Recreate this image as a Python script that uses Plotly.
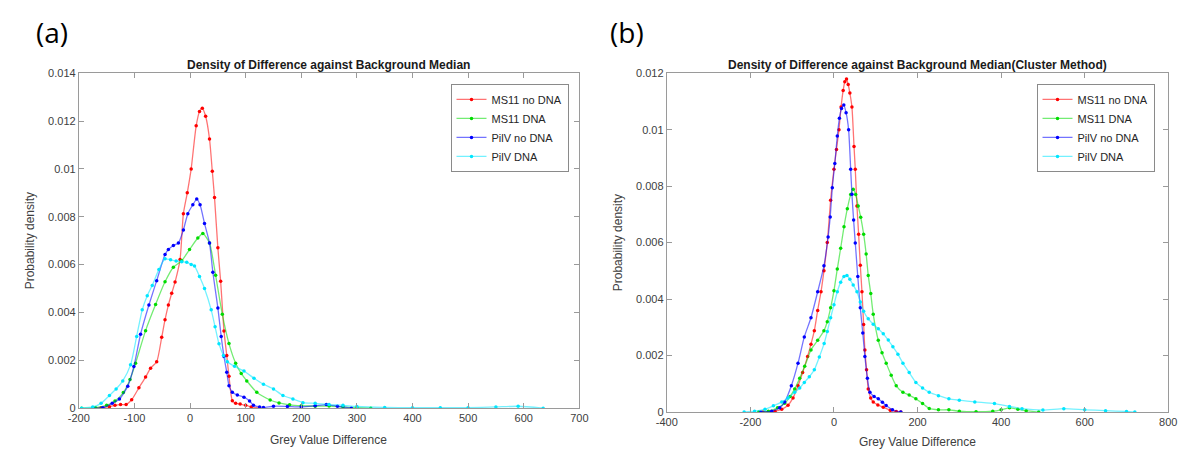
import plotly.graph_objects as go

# ---------------- data: panel (a) ----------------
red_a_x = [-175,-160,-145,-135,-125,-115,-105,-92,-80,-71,-60,-51,-45,-39,-33,-27,-18,-12,-5,2,11,17,22,28,35,40,44,50,55,61,66,70,76,82,90,100,110,125]
red_a_y = [0,0.02,0.06,0.12,0.15,0.15,0.35,0.85,1.3,1.67,1.94,2.96,3.7,4.31,4.8,5.27,6.21,8.13,9.0,10.0,11.8,12.4,12.53,12.2,11.25,9.9,8.8,6.7,5.3,3.23,2.2,1.33,0.31,0.2,0.17,0.12,0.05,0]

green_a_x = [-195,-170,-150,-135,-120,-108,-98,-80,-62,-45,-30,-15,-1,14,23,35,46,58,70,82,92,102,120,144,160,179,200,225,250,275,300,325]
green_a_y = [0,0.02,0.12,0.3,0.65,1.2,1.88,3.24,4.33,5.28,5.89,6.16,6.63,7.11,7.3,6.9,5.55,3.92,2.7,1.88,1.45,1.14,0.66,0.34,0.22,0.14,0.1,0.08,0.09,0.05,0.02,0]

blue_a_x = [-175,-157,-140,-127,-112,-101,-89,-74,-60,-45,-39,-30,-21,-12,-4,5,12,18,26,35,41,50,56,61,66,70,76,85,97,107,114,125,132,150,175,200,225,245,265,290]
blue_a_y = [0,0.02,0.2,0.38,0.92,1.74,3.09,4.31,5.33,6.42,6.63,6.8,6.9,7.45,8.13,8.5,8.74,8.5,7.72,6.9,5.68,4.19,3.0,2.16,1.5,0.94,0.66,0.55,0.46,0.3,0.12,0.05,0.03,0.08,0.07,0.05,0.1,0.15,0.08,0]

cyan_a_x = [-195,-175,-160,-145,-133,-121,-107,-96,-86,-77,-68,-56,-45,-35,-25,-15,-6,2,8,17,26,38,45,52,60,67,80,97,115,132,150,167,185,203,225,250,275,300,350,400,450,500,550,590,635]
cyan_a_y = [0,0.05,0.2,0.53,0.8,1.14,1.81,3.0,4.11,4.7,5.13,5.8,6.24,6.2,6.15,6.12,6.1,6.0,5.94,5.5,5.0,4.11,3.4,2.69,2.2,1.94,1.75,1.55,1.25,1.0,0.8,0.53,0.38,0.23,0.2,0.15,0.12,0.07,0.03,0.02,0.02,0.02,0.05,0.08,0]

# ---------------- data: panel (b) ----------------
red_b_x = [-170,-141,-125,-110,-98,-86,-75,-63,-55,-47,-39,-31,-24,-16,-8,0,6,12,17,22,26,30,34,38,43,48,51,55,59,63,67,71,74,78,82,88,94,105,118,135,149,160]
red_b_y = [0,0.03,0.1,0.24,0.5,0.93,1.4,1.97,2.4,2.88,3.6,4.26,5.0,6.0,7.5,8.6,9.3,10.0,10.8,11.39,11.7,11.79,11.6,11.3,10.8,9.4,8.6,7.3,6.3,5.2,4.26,3.1,2.2,1.5,0.82,0.5,0.36,0.25,0.17,0.06,0.02,0]

green_b_x = [-180,-157,-135,-118,-105,-94,-82,-70,-55,-39,-24,-16,-8,0,8,16,24,32,40,46,52,58,64,71,77,82,88,94,106,115,125,137,149,165,180,196,212,228,250,275,300,340,380,400,420,440,460,490]
green_b_y = [0,0.03,0.15,0.31,0.55,0.82,1.2,1.62,2.2,2.54,2.88,3.2,3.69,4.3,5.07,5.8,6.56,7.2,7.7,7.89,7.7,7.3,6.9,6.3,5.6,4.84,4.2,3.46,2.54,2.1,1.73,1.3,0.93,0.7,0.6,0.47,0.3,0.13,0.08,0.08,0.03,0.01,0.03,0.08,0.15,0.1,0.05,0]

blue_b_x = [-175,-149,-130,-118,-102,-86,-71,-55,-39,-24,-14,-9,-4,2,8,13,18,23.5,29,35,40,43,47,51,57,63,69,74,80,86,96,106,116,125,140,160]
blue_b_y = [0,0.03,0.15,0.36,0.93,1.73,2.66,3.34,4.26,5.18,6.2,6.91,7.94,8.8,9.78,10.4,10.75,10.87,10.6,10.0,8.6,7.71,6.8,5.99,4.8,3.69,2.8,1.97,1.2,0.7,0.55,0.47,0.35,0.23,0.08,0]

cyan_b_x = [-215,-190,-165,-145,-125,-110,-94,-82,-71,-59,-47,-35,-23.5,-16,-8,0,8,16,24,31,38,46,55,63,71,82,94,106,118,130,141,153,165,180,196,212,228,250,275,300,337,384,420,450,500,550,600,650,700,720]
cyan_b_y = [0,0.03,0.1,0.22,0.36,0.5,0.7,0.85,1.05,1.25,1.5,1.95,2.43,2.85,3.34,3.8,4.26,4.6,4.8,4.84,4.7,4.5,4.26,3.9,3.57,3.3,3.11,2.95,2.77,2.55,2.31,2.05,1.73,1.4,1.05,0.85,0.7,0.58,0.47,0.42,0.36,0.3,0.2,0.12,0.07,0.12,0.08,0.05,0.02,0]

series_names = ["MS11 no DNA", "MS11 DNA", "PilV no DNA", "PilV DNA"]
series_colors = ["255,0,0", "0,220,0", "0,0,255", "0,230,255"]

xticks_a = [-200,-100,0,100,200,300,400,500,600,700]
xticks_b = [-400,-200,0,200,400,600,800]
yticks_a = [0,0.002,0.004,0.006,0.008,0.01,0.012,0.014]
yticks_b = [0,0.002,0.004,0.006,0.008,0.01,0.012]

panel_a = [(red_a_x, red_a_y), (green_a_x, green_a_y), (blue_a_x, blue_a_y), (cyan_a_x, cyan_a_y)]
panel_b = [(red_b_x, red_b_y), (green_b_x, green_b_y), (blue_b_x, blue_b_y), (cyan_b_x, cyan_b_y)]

W, H = 1193, 457
FONT = "Liberation Sans, Arial, sans-serif"

fig = go.Figure()

for panel, (xa, ya, leg) in zip([panel_a, panel_b], [("x", "y", "legend"), ("x2", "y2", "legend2")]):
    for (xs, ys), name, col in zip(panel, series_names, series_colors):
        fig.add_trace(go.Scatter(
            x=xs, y=[v / 1000 for v in ys], name=name, mode="lines+markers",
            xaxis=xa, yaxis=ya, legend=leg,
            line=dict(color=f"rgba({col},0.55)", width=1.3, shape="spline", smoothing=0.6),
            marker=dict(color=f"rgb({col})", size=3.5),
        ))

def px_x(p):
    return p / W

def px_y(p):
    return 1 - p / H

axis_common = dict(
    showline=True, linecolor="#9a9a9a", linewidth=1, mirror="ticks",
    ticks="inside", ticklen=5, tickcolor="#9a9a9a", showgrid=False, zeroline=False,
    tickfont=dict(family=FONT, size=11, color="#404040"),
)

legend_common = dict(xanchor="left", yanchor="top", bgcolor="white",
                     bordercolor="#8a8a8a", borderwidth=1,
                     font=dict(family=FONT, size=11, color="#262626"), tracegroupgap=0)

fig.update_layout(
    width=W, height=H, margin=dict(l=0, r=0, t=0, b=0),
    paper_bgcolor="white", plot_bgcolor="white",
    showlegend=True,
    xaxis=dict(domain=[px_x(69), px_x(578)], range=[-200, 700], anchor="y",
               tickvals=xticks_a, ticktext=[str(v) for v in xticks_a], **axis_common),
    yaxis=dict(domain=[px_y(413), px_y(69)], range=[0, 0.014], anchor="x",
               tickvals=yticks_a, ticktext=[f"{v:g}" for v in yticks_a], **axis_common),
    xaxis2=dict(domain=[px_x(667), px_x(1177)], range=[-400, 800], anchor="y2",
                tickvals=xticks_b, ticktext=[str(v) for v in xticks_b], **axis_common),
    yaxis2=dict(domain=[px_y(417), px_y(69)], range=[0, 0.012], anchor="x2",
                tickvals=yticks_b, ticktext=[f"{v:g}" for v in yticks_b], **axis_common),
    legend=dict(x=px_x(447), y=px_y(80), **legend_common),
    legend2=dict(x=px_x(1043), y=px_y(80), **legend_common),
)

annotations = [
    dict(text="(a)", x=px_x(42), y=px_y(27), font=dict(family="Open Sans, sans-serif", size=28, color="black")),
    dict(text="(b)", x=px_x(626), y=px_y(27), font=dict(family="Open Sans, sans-serif", size=28, color="black")),
    dict(text="<b>Density of Difference against Background Median</b>", x=px_x(323), y=px_y(61),
         font=dict(family=FONT, size=12, color="#1a1a1a")),
    dict(text="<b>Density of Difference against Background Median(Cluster Method)</b>", x=px_x(922), y=px_y(61),
         font=dict(family=FONT, size=12, color="#1a1a1a")),
    dict(text="Grey Value Difference", x=px_x(323), y=px_y(446), font=dict(family=FONT, size=12, color="#404040")),
    dict(text="Grey Value Difference", x=px_x(922), y=px_y(448), font=dict(family=FONT, size=12, color="#404040")),
    dict(text="Probability density", x=px_x(19), y=px_y(241), textangle=-90, font=dict(family=FONT, size=12, color="#404040")),
    dict(text="Probability density", x=px_x(617), y=px_y(243), textangle=-90, font=dict(family=FONT, size=12, color="#404040")),
]
for a in annotations:
    a.update(xref="paper", yref="paper", showarrow=False, xanchor="center", yanchor="middle")
fig.update_layout(annotations=annotations)

fig.write_html("out.html", config={"displayModeBar": False},
               post_script="document.body.style.margin='0px';document.body.style.overflow='hidden';")
